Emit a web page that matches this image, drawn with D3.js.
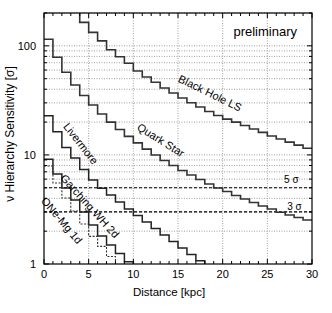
<!DOCTYPE html>
<html>
<head>
<meta charset="utf-8">
<script src="https://cdn.jsdelivr.net/npm/d3@7"></script>
<style>
  body { margin: 0; background: #fff; }
  svg text { font-family: "Liberation Sans", Arial, sans-serif; fill: #000; }
</style>
</head>
<body>
<svg id="chart"></svg>
<script>
// valores (degraus de 1 kpc)
const xTicksMajor = [0, 5, 10, 15, 20, 25, 30];
const yTicksMajor = [1, 10, 100];

const blackHoleStart = 4;
const blackHole = [164, 133, 111, 92.2, 79.5, 69.2, 58.8, 51.8, 46.3, 41.1, 36.9, 33.3, 30.1,
  27.5, 25.0, 23.0, 21.3, 20.0, 18.6, 17.3, 16.1, 14.9, 14.0, 13.1, 12.3, 11.5];
const quarkStar = [114.8, 78.5, 57.2, 43.8, 35.0, 28.7, 23.7, 20.0, 17.1, 14.8, 12.9, 11.3, 9.98,
  8.89, 8.00, 7.20, 6.54, 5.95, 5.41, 4.97, 4.62, 4.25, 3.94, 3.66, 3.40, 3.19, 2.98, 2.81, 2.67, 2.53];
const livermore = [22.9, 16.3, 11.7, 9.37, 7.35, 5.89, 4.94, 4.29, 3.70, 3.19, 2.78, 2.43, 2.12,
  1.84, 1.61, 1.40, 1.22, 1.07];
const garching = [9.12, 6.69, 4.97, 3.86, 3.00, 2.28, 1.81, 1.49, 1.25, 1.05];
const oneMg = [7.91, 5.53, 4.03, 3.06, 2.33, 1.79, 1.45, 1.17];

const sigmaLevels = [5, 3];

// Dimensões
const width = 332, height = 313;
const padL = 44, padR = 312, padT = 13, padB = 264;

const svg = d3.select('#chart').attr('width', width).attr('height', height);

const x = d3.scaleLinear().domain([0, 30]).range([padL, padR]);
const y = d3.scaleLog().domain([1, 200]).range([padB, padT]);

// grelha
const minorY = [];
[1, 10, 100].forEach(p => d3.range(2, 10).forEach(m => { if (p * m <= 200) minorY.push(p * m); }));
const gridY = minorY.concat([10, 100]);

svg.append('g').selectAll('line')
  .data(gridY).enter().append('line')
  .attr('x1', padL).attr('x2', padR)
  .attr('y1', d => y(d)).attr('y2', d => y(d))
  .attr('stroke', '#888').attr('stroke-width', 0.8)
  .attr('stroke-dasharray', '1,1.5');

svg.append('g').selectAll('line')
  .data(xTicksMajor.slice(1, -1)).enter().append('line')
  .attr('x1', d => x(d)).attr('x2', d => x(d))
  .attr('y1', padT).attr('y2', padB)
  .attr('stroke', '#888').attr('stroke-width', 0.8)
  .attr('stroke-dasharray', '1,1.5');

// linhas de 5 sigma e 3 sigma
svg.append('g').selectAll('line')
  .data(sigmaLevels).enter().append('line')
  .attr('x1', padL).attr('x2', padR)
  .attr('y1', d => y(d)).attr('y2', d => y(d))
  .attr('stroke', '#000').attr('stroke-width', 1.2)
  .attr('stroke-dasharray', '3,2');

// curvas em degraus
const series = [
  { name: 'Black Hole LS', start: blackHoleStart, values: blackHole, dash: null, color: '#333', w: 1.6 },
  { name: 'Quark Star', start: 0, values: quarkStar, dash: null, color: '#333', w: 1.6 },
  { name: 'Livermore', start: 0, values: livermore, dash: null, color: '#222', w: 1.5 },
  { name: 'Garching WH 2d', start: 0, values: garching, dash: null, color: '#222', w: 1.5 },
  { name: 'ONe-Mg 1d', start: 0, values: oneMg, dash: '2,1.5', color: '#333', w: 1.1 }
];

svg.append('clipPath').attr('id', 'plotclip')
  .append('rect').attr('x', padL).attr('y', padT)
  .attr('width', padR - padL).attr('height', padB - padT);

const line = d3.line()
  .x(d => x(d.d))
  .y(d => y(d.v))
  .curve(d3.curveStepAfter);

const [yMin, yMax] = y.domain();

series.forEach(s => {
  let pts = [];
  if (s.start > 0) pts.push({ d: s.start, v: yMax * 1.5 });
  s.values.forEach((v, i) => pts.push({ d: s.start + i, v: v }));
  const end = s.start + s.values.length;
  pts.push({ d: end, v: s.values[s.values.length - 1] });
  if (end < 30) pts.push({ d: end, v: yMin * 0.8 });

  svg.append('path')
    .datum(pts)
    .attr('clip-path', 'url(#plotclip)')
    .attr('fill', 'none')
    .attr('stroke', s.color)
    .attr('stroke-width', s.w)
    .attr('stroke-dasharray', s.dash)
    .attr('d', line);
});

// rótulos das curvas
const curveLabels = [
  { text: 'Black Hole LS', d: 18.6, v: 37.0, angle: 26 },
  { text: 'Quark Star', d: 13.1, v: 13.7, angle: 32 },
  { text: 'Livermore', d: 4.14, v: 12.7, angle: 52 },
  { text: 'Garching WH 2d', d: 5.15, v: 3.40, angle: 48 },
  { text: 'ONe-Mg 1d', d: 2.01, v: 2.51, angle: 50 }
];

svg.append('g').selectAll('text')
  .data(curveLabels).enter().append('text')
  .attr('transform', d => `translate(${x(d.d)},${y(d.v)}) rotate(${d.angle})`)
  .attr('text-anchor', 'middle')
  .attr('dominant-baseline', 'central')
  .style('font-size', '11px')
  .text(d => d.text);

svg.append('text')
  .attr('x', x(28.5)).attr('y', y(5) - 5)
  .attr('text-anchor', 'end')
  .style('font-size', '10px')
  .text('5 σ');

svg.append('text')
  .attr('x', x(28.85)).attr('y', y(3) - 1.5)
  .attr('text-anchor', 'end')
  .style('font-size', '10px')
  .text('3 σ');

svg.append('text')
  .attr('x', 297).attr('y', 36)
  .attr('text-anchor', 'end')
  .style('font-size', '13px')
  .text('preliminary');

// eixos (ticks para dentro, nos quatro lados)
const ax = svg.append('g').attr('stroke', '#000').attr('stroke-width', 1);

const xMinor = d3.range(1, 30).filter(d => d % 5 !== 0);
[padB, padT].forEach(yy => {
  const dir = yy === padB ? -1 : 1;
  ax.append('g').selectAll('line').data(xMinor).enter().append('line')
    .attr('x1', d => x(d)).attr('x2', d => x(d))
    .attr('y1', yy).attr('y2', yy + dir * 3);
  ax.append('g').selectAll('line').data(xTicksMajor).enter().append('line')
    .attr('x1', d => x(d)).attr('x2', d => x(d))
    .attr('y1', yy).attr('y2', yy + dir * 5);
});

[padL, padR].forEach(xx => {
  const dir = xx === padL ? 1 : -1;
  ax.append('g').selectAll('line').data(minorY).enter().append('line')
    .attr('x1', xx).attr('x2', xx + dir * 3)
    .attr('y1', d => y(d)).attr('y2', d => y(d));
  ax.append('g').selectAll('line').data(yTicksMajor).enter().append('line')
    .attr('x1', xx).attr('x2', xx + dir * 5)
    .attr('y1', d => y(d)).attr('y2', d => y(d));
});

svg.append('rect')
  .attr('x', padL).attr('y', padT)
  .attr('width', padR - padL).attr('height', padB - padT)
  .attr('fill', 'none').attr('stroke', '#000').attr('stroke-width', 1.2);

svg.append('g').selectAll('text')
  .data(xTicksMajor).enter().append('text')
  .attr('x', d => x(d)).attr('y', padB + 14)
  .attr('text-anchor', 'middle')
  .style('font-size', '11px')
  .text(d => d);

svg.append('g').selectAll('text')
  .data(yTicksMajor).enter().append('text')
  .attr('x', padL - 8).attr('y', d => y(d))
  .attr('text-anchor', 'end')
  .attr('dominant-baseline', 'central')
  .style('font-size', '11px')
  .text(d => d);

svg.append('text')
  .attr('x', 169).attr('y', 296)
  .attr('text-anchor', 'middle')
  .style('font-size', '11.5px')
  .text('Distance [kpc]');

svg.append('text')
  .attr('transform', 'translate(13.5,134) rotate(-90)')
  .attr('text-anchor', 'middle')
  .style('font-size', '12px')
  .text('ν  Hierarchy Sensitivity [σ]');
</script>
</body>
</html>
